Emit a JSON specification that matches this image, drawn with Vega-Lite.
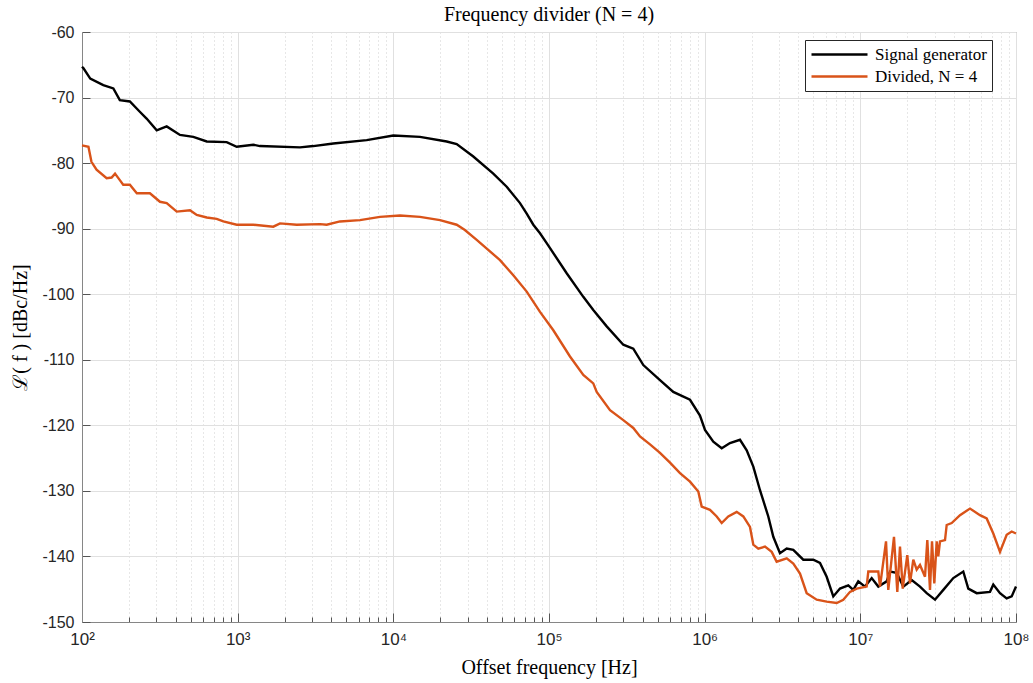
{
"$schema": "https://vega.github.io/schema/vega-lite/v6.json",
"width": 934, "height": 590,
"autosize": "none",
"padding": {"left": 82, "top": 32, "right": 17, "bottom": 61},
"background": "white",
"title": {"text": "Frequency divider (N = 4)", "font": "Liberation Serif", "fontSize": 20, "fontWeight": "normal", "color": "#000000", "anchor": "middle", "baseline": "bottom", "offset": 6, "dy": 27},
"config": {"view": {"stroke": "#868686", "strokeWidth": 1}},
"data": {"values": [
{"s":"Signal generator","f":100,"L":-65.3},
{"s":"Signal generator","f":102,"L":-65.5},
{"s":"Signal generator","f":113,"L":-67.1},
{"s":"Signal generator","f":137,"L":-68.1},
{"s":"Signal generator","f":159,"L":-68.6},
{"s":"Signal generator","f":175,"L":-70.4},
{"s":"Signal generator","f":203,"L":-70.6},
{"s":"Signal generator","f":236,"L":-72.2},
{"s":"Signal generator","f":260,"L":-73.2},
{"s":"Signal generator","f":302,"L":-75.0},
{"s":"Signal generator","f":350,"L":-74.4},
{"s":"Signal generator","f":426,"L":-75.7},
{"s":"Signal generator","f":519,"L":-76.0},
{"s":"Signal generator","f":633,"L":-76.7},
{"s":"Signal generator","f":850,"L":-76.8},
{"s":"Signal generator","f":986,"L":-77.5},
{"s":"Signal generator","f":1260,"L":-77.2},
{"s":"Signal generator","f":1391,"L":-77.4},
{"s":"Signal generator","f":2514,"L":-77.6},
{"s":"Signal generator","f":3060,"L":-77.4},
{"s":"Signal generator","f":4115,"L":-77.0},
{"s":"Signal generator","f":6744,"L":-76.5},
{"s":"Signal generator","f":9990,"L":-75.8},
{"s":"Signal generator","f":14830,"L":-76.0},
{"s":"Signal generator","f":22020,"L":-76.7},
{"s":"Signal generator","f":25530,"L":-77.1},
{"s":"Signal generator","f":32640,"L":-79.0},
{"s":"Signal generator","f":43860,"L":-81.6},
{"s":"Signal generator","f":53490,"L":-83.6},
{"s":"Signal generator","f":65120,"L":-86.1},
{"s":"Signal generator","f":71910,"L":-87.7},
{"s":"Signal generator","f":79290,"L":-89.4},
{"s":"Signal generator","f":87530,"L":-90.7},
{"s":"Signal generator","f":96650,"L":-92.2},
{"s":"Signal generator","f":129900,"L":-96.8},
{"s":"Signal generator","f":166100,"L":-100.4},
{"s":"Signal generator","f":192500,"L":-102.4},
{"s":"Signal generator","f":234800,"L":-104.9},
{"s":"Signal generator","f":300100,"L":-107.7},
{"s":"Signal generator","f":347900,"L":-108.3},
{"s":"Signal generator","f":403500,"L":-110.8},
{"s":"Signal generator","f":516400,"L":-113.1},
{"s":"Signal generator","f":628600,"L":-114.9},
{"s":"Signal generator","f":804900,"L":-116.1},
{"s":"Signal generator","f":932800,"L":-118.5},
{"s":"Signal generator","f":1004800,"L":-120.7},
{"s":"Signal generator","f":1136200,"L":-122.5},
{"s":"Signal generator","f":1286600,"L":-123.5},
{"s":"Signal generator","f":1454500,"L":-122.7},
{"s":"Signal generator","f":1686100,"L":-122.2},
{"s":"Signal generator","f":1861900,"L":-123.8},
{"s":"Signal generator","f":2053400,"L":-126.3},
{"s":"Signal generator","f":2267000,"L":-129.9},
{"s":"Signal generator","f":2563000,"L":-133.9},
{"s":"Signal generator","f":2760000,"L":-137.0},
{"s":"Signal generator","f":3046300,"L":-139.5},
{"s":"Signal generator","f":3364700,"L":-138.8},
{"s":"Signal generator","f":3710100,"L":-139.0},
{"s":"Signal generator","f":4300000,"L":-140.5},
{"s":"Signal generator","f":4986000,"L":-140.5},
{"s":"Signal generator","f":5506000,"L":-141.0},
{"s":"Signal generator","f":6078000,"L":-143.1},
{"s":"Signal generator","f":6703000,"L":-146.1},
{"s":"Signal generator","f":7401000,"L":-144.9},
{"s":"Signal generator","f":8368000,"L":-144.4},
{"s":"Signal generator","f":9011000,"L":-145.1},
{"s":"Signal generator","f":9699000,"L":-143.8},
{"s":"Signal generator","f":10713000,"L":-144.6},
{"s":"Signal generator","f":11830000,"L":-143.3},
{"s":"Signal generator","f":13044000,"L":-144.6},
{"s":"Signal generator","f":14770000,"L":-143.8},
{"s":"Signal generator","f":15510000,"L":-142.3},
{"s":"Signal generator","f":17120000,"L":-142.5},
{"s":"Signal generator","f":18880000,"L":-144.6},
{"s":"Signal generator","f":21380000,"L":-143.6},
{"s":"Signal generator","f":24170000,"L":-144.6},
{"s":"Signal generator","f":26690000,"L":-145.6},
{"s":"Signal generator","f":30180000,"L":-146.6},
{"s":"Signal generator","f":34130000,"L":-145.1},
{"s":"Signal generator","f":39560000,"L":-143.3},
{"s":"Signal generator","f":45850000,"L":-142.3},
{"s":"Signal generator","f":49380000,"L":-144.9},
{"s":"Signal generator","f":55900000,"L":-145.6},
{"s":"Signal generator","f":68070000,"L":-145.4},
{"s":"Signal generator","f":71470000,"L":-144.3},
{"s":"Signal generator","f":78920000,"L":-145.6},
{"s":"Signal generator","f":87120000,"L":-146.4},
{"s":"Signal generator","f":93820000,"L":-146.1},
{"s":"Signal generator","f":100000000,"L":-144.6},
{"s":"Divided, N = 4","f":100,"L":-77.3},
{"s":"Divided, N = 4","f":110,"L":-77.5},
{"s":"Divided, N = 4","f":115,"L":-79.8},
{"s":"Divided, N = 4","f":124,"L":-81.0},
{"s":"Divided, N = 4","f":144,"L":-82.3},
{"s":"Divided, N = 4","f":155,"L":-82.2},
{"s":"Divided, N = 4","f":163,"L":-81.6},
{"s":"Divided, N = 4","f":175,"L":-82.6},
{"s":"Divided, N = 4","f":184,"L":-83.3},
{"s":"Divided, N = 4","f":203,"L":-83.3},
{"s":"Divided, N = 4","f":225,"L":-84.6},
{"s":"Divided, N = 4","f":273,"L":-84.6},
{"s":"Divided, N = 4","f":317,"L":-85.9},
{"s":"Divided, N = 4","f":350,"L":-86.1},
{"s":"Divided, N = 4","f":406,"L":-87.4},
{"s":"Divided, N = 4","f":494,"L":-87.2},
{"s":"Divided, N = 4","f":546,"L":-87.9},
{"s":"Divided, N = 4","f":633,"L":-88.3},
{"s":"Divided, N = 4","f":733,"L":-88.5},
{"s":"Divided, N = 4","f":809,"L":-88.9},
{"s":"Divided, N = 4","f":986,"L":-89.4},
{"s":"Divided, N = 4","f":1260,"L":-89.4},
{"s":"Divided, N = 4","f":1694,"L":-89.7},
{"s":"Divided, N = 4","f":1871,"L":-89.2},
{"s":"Divided, N = 4","f":2395,"L":-89.4},
{"s":"Divided, N = 4","f":3380,"L":-89.3},
{"s":"Divided, N = 4","f":3732,"L":-89.4},
{"s":"Divided, N = 4","f":4543,"L":-88.9},
{"s":"Divided, N = 4","f":6106,"L":-88.7},
{"s":"Divided, N = 4","f":8210,"L":-88.2},
{"s":"Divided, N = 4","f":11040,"L":-88.0},
{"s":"Divided, N = 4","f":14830,"L":-88.2},
{"s":"Divided, N = 4","f":19950,"L":-88.7},
{"s":"Divided, N = 4","f":25530,"L":-89.4},
{"s":"Divided, N = 4","f":28810,"L":-90.2},
{"s":"Divided, N = 4","f":34320,"L":-91.7},
{"s":"Divided, N = 4","f":48450,"L":-94.8},
{"s":"Divided, N = 4","f":58980,"L":-97.1},
{"s":"Divided, N = 4","f":71910,"L":-99.6},
{"s":"Divided, N = 4","f":87530,"L":-102.7},
{"s":"Divided, N = 4","f":106600,"L":-105.5},
{"s":"Divided, N = 4","f":136400,"L":-109.5},
{"s":"Divided, N = 4","f":166100,"L":-112.3},
{"s":"Divided, N = 4","f":192500,"L":-113.6},
{"s":"Divided, N = 4","f":202500,"L":-114.9},
{"s":"Divided, N = 4","f":246600,"L":-117.7},
{"s":"Divided, N = 4","f":300100,"L":-119.2},
{"s":"Divided, N = 4","f":347900,"L":-120.4},
{"s":"Divided, N = 4","f":384200,"L":-121.7},
{"s":"Divided, N = 4","f":445500,"L":-122.9},
{"s":"Divided, N = 4","f":516400,"L":-124.2},
{"s":"Divided, N = 4","f":598900,"L":-125.7},
{"s":"Divided, N = 4","f":694200,"L":-127.3},
{"s":"Divided, N = 4","f":804900,"L":-128.6},
{"s":"Divided, N = 4","f":910000,"L":-130.1},
{"s":"Divided, N = 4","f":956800,"L":-132.4},
{"s":"Divided, N = 4","f":1082000,"L":-132.9},
{"s":"Divided, N = 4","f":1195000,"L":-133.9},
{"s":"Divided, N = 4","f":1286600,"L":-134.9},
{"s":"Divided, N = 4","f":1418000,"L":-133.9},
{"s":"Divided, N = 4","f":1606000,"L":-133.2},
{"s":"Divided, N = 4","f":1771000,"L":-133.9},
{"s":"Divided, N = 4","f":1955000,"L":-135.5},
{"s":"Divided, N = 4","f":2053400,"L":-138.2},
{"s":"Divided, N = 4","f":2211000,"L":-138.8},
{"s":"Divided, N = 4","f":2441000,"L":-138.5},
{"s":"Divided, N = 4","f":2695000,"L":-139.3},
{"s":"Divided, N = 4","f":2901000,"L":-140.8},
{"s":"Divided, N = 4","f":3364700,"L":-140.3},
{"s":"Divided, N = 4","f":3710100,"L":-141.1},
{"s":"Divided, N = 4","f":4096000,"L":-142.6},
{"s":"Divided, N = 4","f":4522000,"L":-145.6},
{"s":"Divided, N = 4","f":5244000,"L":-146.6},
{"s":"Divided, N = 4","f":6078000,"L":-146.9},
{"s":"Divided, N = 4","f":7048000,"L":-147.1},
{"s":"Divided, N = 4","f":7773000,"L":-146.6},
{"s":"Divided, N = 4","f":8582000,"L":-145.4},
{"s":"Divided, N = 4","f":9476000,"L":-144.9},
{"s":"Divided, N = 4","f":10980000,"L":-144.6},
{"s":"Divided, N = 4","f":11250000,"L":-142.3},
{"s":"Divided, N = 4","f":13044000,"L":-142.3},
{"s":"Divided, N = 4","f":13380000,"L":-144.6},
{"s":"Divided, N = 4","f":14620000,"L":-137.7},
{"s":"Divided, N = 4","f":15120000,"L":-145.1},
{"s":"Divided, N = 4","f":16450000,"L":-137.0},
{"s":"Divided, N = 4","f":17280000,"L":-145.4},
{"s":"Divided, N = 4","f":17980000,"L":-138.5},
{"s":"Divided, N = 4","f":18720000,"L":-144.9},
{"s":"Divided, N = 4","f":20030000,"L":-139.8},
{"s":"Divided, N = 4","f":20840000,"L":-144.1},
{"s":"Divided, N = 4","f":21890000,"L":-140.5},
{"s":"Divided, N = 4","f":23010000,"L":-142.0},
{"s":"Divided, N = 4","f":24170000,"L":-141.3},
{"s":"Divided, N = 4","f":26030000,"L":-143.1},
{"s":"Divided, N = 4","f":26930000,"L":-137.5},
{"s":"Divided, N = 4","f":28030000,"L":-145.1},
{"s":"Divided, N = 4","f":28870000,"L":-137.7},
{"s":"Divided, N = 4","f":29870000,"L":-144.1},
{"s":"Divided, N = 4","f":30940000,"L":-137.7},
{"s":"Divided, N = 4","f":31680000,"L":-140.0},
{"s":"Divided, N = 4","f":32490000,"L":-137.7},
{"s":"Divided, N = 4","f":34990000,"L":-137.5},
{"s":"Divided, N = 4","f":35870000,"L":-135.2},
{"s":"Divided, N = 4","f":38630000,"L":-134.9},
{"s":"Divided, N = 4","f":43680000,"L":-133.7},
{"s":"Divided, N = 4","f":50630000,"L":-132.7},
{"s":"Divided, N = 4","f":58700000,"L":-133.7},
{"s":"Divided, N = 4","f":64810000,"L":-134.2},
{"s":"Divided, N = 4","f":71470000,"L":-136.5},
{"s":"Divided, N = 4","f":78920000,"L":-139.3},
{"s":"Divided, N = 4","f":87120000,"L":-136.7},
{"s":"Divided, N = 4","f":93820000,"L":-136.2},
{"s":"Divided, N = 4","f":100000000,"L":-136.5}
]},
"mark": {"type": "line", "strokeWidth": 2.4},
"encoding": {
  "x": {"field": "f", "type": "quantitative",
    "scale": {"type": "log", "domain": [100, 100000000], "nice": false},
    "axis": {
      "values": [100,200,300,400,500,600,700,800,900,1000,2000,3000,4000,5000,6000,7000,8000,9000,10000,20000,30000,40000,50000,60000,70000,80000,90000,100000,200000,300000,400000,500000,600000,700000,800000,900000,1000000,2000000,3000000,4000000,5000000,6000000,7000000,8000000,9000000,10000000,20000000,30000000,40000000,50000000,60000000,70000000,80000000,90000000,100000000],
      "labelExpr": "abs(log(datum.value)/LN10 - round(log(datum.value)/LN10)) < 0.01 ? '10' + ['⁰','¹','²','³','⁴','⁵','⁶','⁷','⁸'][round(log(datum.value)/LN10)] : ''",
      "labelFont": "Liberation Sans", "labelFontSize": 17, "labelColor": "#262626",
      "labelPadding": 18, "labelFlush": false, "labelOverlap": false, "labelBound": false,
      "grid": true,
      "gridColor": {"condition": {"test": "abs(log(datum.value)/LN10 - round(log(datum.value)/LN10)) < 0.01", "value": "#e0e0e0"}, "value": "#cfcfcf"},
      "gridDash": {"condition": {"test": "abs(log(datum.value)/LN10 - round(log(datum.value)/LN10)) < 0.01", "value": []}, "value": [1, 3]},
      "gridWidth": 1,
      "domainColor": "#868686",
      "tickColor": "#555555",
      "tickSize": {"condition": {"test": "abs(log(datum.value)/LN10 - round(log(datum.value)/LN10)) < 0.01", "value": -9}, "value": -5},
      "title": "Offset frequency [Hz]",
      "titleFont": "Liberation Serif", "titleFontSize": 20, "titleFontWeight": "normal", "titleColor": "#000000",
      "titleX": 467, "titleY": 45, "titleBaseline": "middle", "titleAlign": "center"
    }},
  "y": {"field": "L", "type": "quantitative",
    "scale": {"domain": [-150, -60], "nice": false, "zero": false},
    "axis": {
      "values": [-150,-140,-130,-120,-110,-100,-90,-80,-70,-60],
      "labelExpr": "'' + datum.value",
      "labelFont": "Liberation Sans", "labelFontSize": 16, "labelColor": "#262626",
      "labelPadding": 16,
      "grid": true, "gridColor": "#e0e0e0", "gridWidth": 1,
      "domainColor": "#868686", "tickColor": "#555555", "tickSize": -8,
      "title": "ℒ( f ) [dBc/Hz]",
      "titleFont": "Liberation Serif", "titleFontSize": 20, "titleFontWeight": "normal", "titleColor": "#000000",
      "titleX": -62, "titleY": 295, "titleAngle": -90, "titleBaseline": "middle", "titleAlign": "center"
    }},
  "color": {"field": "s", "type": "nominal",
    "scale": {"domain": ["Signal generator", "Divided, N = 4"], "range": ["#000000", "#D95319"]},
    "legend": {
      "title": null, "orient": "none", "legendX": 723, "legendY": 8,
      "fillColor": "#ffffff", "strokeColor": "#262626", "padding": 5,
      "symbolType": "stroke", "symbolSize": 3136, "symbolStrokeWidth": 2.5,
      "clipHeight": 19, "rowPadding": 3,
      "labelFont": "Liberation Serif", "labelFontSize": 17, "labelColor": "#000000",
      "labelOffset": 6
    }}
}
}
